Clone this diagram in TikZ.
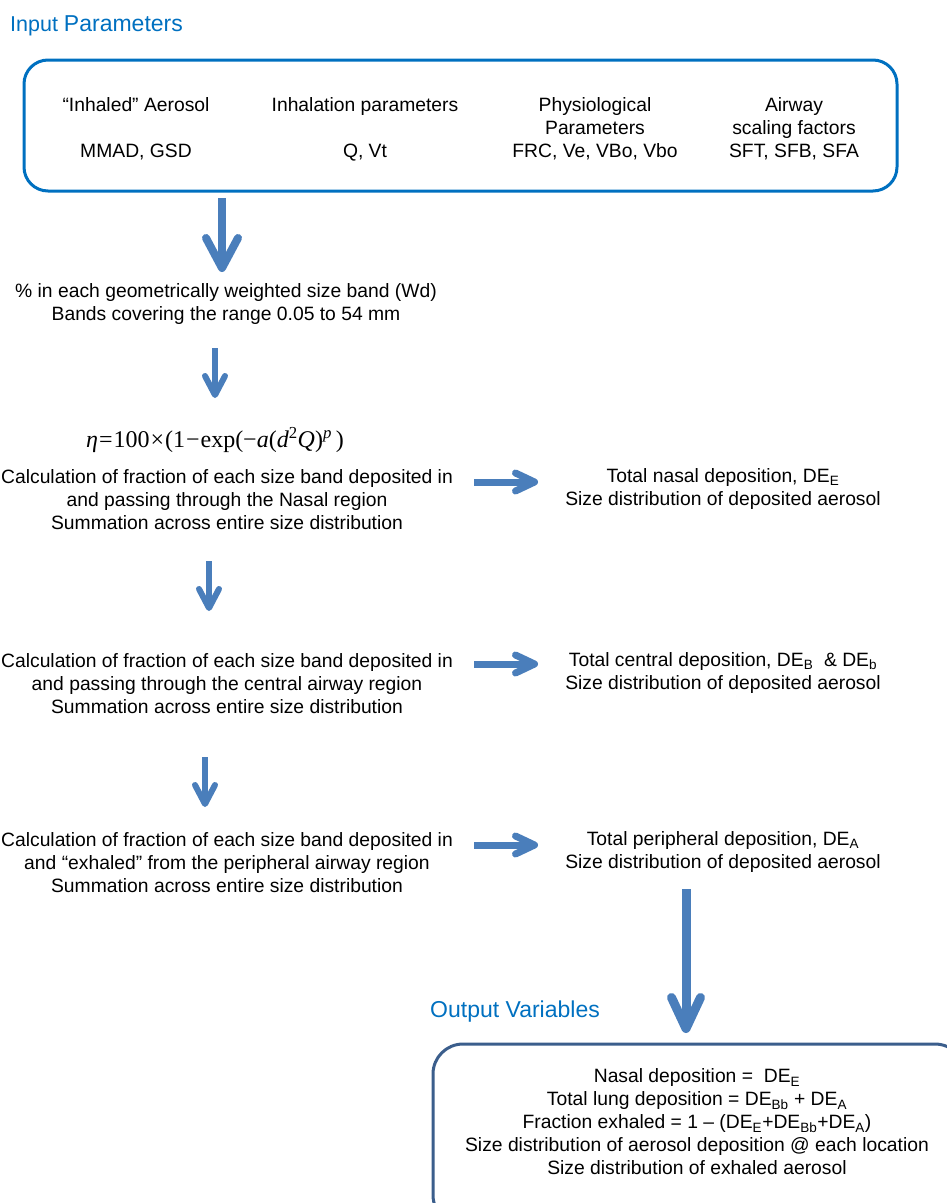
\documentclass[tikz,border=0pt]{standalone}
\usepackage{fontspec}
\setmainfont{Liberation Sans}
\newfontfamily\eqnfont{Liberation Serif}
\usetikzlibrary{arrows.meta}
\definecolor{titleblue}{HTML}{0070C0}
\definecolor{arrowblue}{HTML}{4A7EBB}
\definecolor{frameblue}{HTML}{3B5E8C}
\begin{document}
\begin{tikzpicture}[x=1pt, y=-1pt,
  every node/.style={inner sep=0pt},
  txt/.style={align=center, font=\fontsize{19.3}{23}\selectfont},
  heading/.style={anchor=base west, text=titleblue},
  bigdown/.style={draw=arrowblue, line width=8pt, -{Straight Barb[round, length=30pt, width=32pt]}},
  smalldown/.style={draw=arrowblue, line width=6pt, -{Straight Barb[round, length=19pt, width=20pt]}},
  sidearrow/.style={draw=arrowblue, line width=7pt, -{Straight Barb[round, length=19pt, width=18pt]}},
  outarrow/.style={draw=arrowblue, line width=9pt, -{Straight Barb[round, length=31pt, width=29pt]}}]
\useasboundingbox (0,0) rectangle (946,1203);
% input parameters
\node[heading] (intitle) at (10,31) {\fontsize{21.5}{24}\selectfont Input \fontsize{23}{24}\selectfont Parameters};
\node[draw=titleblue, line width=3pt, rounded corners=24pt, minimum width=873pt, minimum height=131pt] (inbox) at (460.5,125.5) {};
\begin{scope}[every node/.style={txt, inner sep=0pt}]
\node (aerosol) at (136,129) {“Inhaled” Aerosol\\[23pt]MMAD, GSD};
\node (inhal) at (365,129) {Inhalation parameters\\[23pt]Q, Vt};
\node (physio) at (595,129) {Physiological\\Parameters\\FRC, Ve, VBo, Vbo};
\node (airway) at (794,129) {Airway\\scaling factors\\SFT, SFB, SFA};
\node (bands) at (226,304) {\% in each geometrically weighted size band (Wd)\\Bands covering the range 0.05 to 54 mm};
\node (eqn) at (215,440) {\eqnfont\fontsize{24}{26}\selectfont{\itshape η}\kern1pt=\kern1pt100\kern1pt×\kern1pt(1\kern1pt−\kern1pt exp(−{\itshape a}({\itshape d}\textsuperscript{2}{\itshape Q})\textsuperscript{\itshape p}\,)};
\node (nasal) at (227,500) {Calculation of fraction of each size band deposited in\\and passing through the Nasal region\\Summation across entire size distribution};
\node (nasalout) at (723,489) {Total nasal deposition, DE\textsubscript{E}\\Size distribution of deposited aerosol};
\node (central) at (227,684) {Calculation of fraction of each size band deposited in\\and passing through the central airway region\\Summation across entire size distribution};
\node (centralout) at (723,673) {Total central deposition, DE\textsubscript{B}\ \ \& DE\textsubscript{b}\\Size distribution of deposited aerosol};
\node (periph) at (227,863) {Calculation of fraction of each size band deposited in\\and “exhaled” from the peripheral airway region\\Summation across entire size distribution};
\node (periphout) at (723,852) {Total peripheral deposition, DE\textsubscript{A}\\Size distribution of deposited aerosol};
\node (outlist) at (697,1122) {Nasal deposition =\ \ DE\textsubscript{E}\\Total lung deposition = DE\textsubscript{Bb} + DE\textsubscript{A}\\Fraction exhaled = 1 – (DE\textsubscript{E}+DE\textsubscript{Bb}+DE\textsubscript{A})\\Size distribution of aerosol deposition @ each location\\Size distribution of exhaled aerosol};
\end{scope}
% output variables
\node[heading] (outtitle) at (430,1017) {\fontsize{23}{24}\selectfont Output Variables};
\draw[frameblue, line width=3pt, rounded corners=30pt] (433,1044) rectangle (965,1225);
% arrow ends
\coordinate (d1a) at (222,198); \coordinate (d1b) at (222,272);
\coordinate (d2a) at (215,348); \coordinate (d2b) at (215,398);
\coordinate (d3a) at (209,561); \coordinate (d3b) at (209,611);
\coordinate (d4a) at (205,757); \coordinate (d4b) at (205,807);
\coordinate (s1a) at (474,482); \coordinate (s1b) at (538,482);
\coordinate (s2a) at (474,664); \coordinate (s2b) at (538,664);
\coordinate (s3a) at (474,845); \coordinate (s3b) at (538,845);
\coordinate (o1a) at (686,889); \coordinate (o1b) at (686,1033);
\draw[bigdown] (d1a) -- (d1b);
\draw[smalldown] (d2a) -- (d2b);
\draw[smalldown] (d3a) -- (d3b);
\draw[smalldown] (d4a) -- (d4b);
\draw[sidearrow] (s1a) -- (s1b);
\draw[sidearrow] (s2a) -- (s2b);
\draw[sidearrow] (s3a) -- (s3b);
\draw[outarrow] (o1a) -- (o1b);
\end{tikzpicture}
\end{document}
